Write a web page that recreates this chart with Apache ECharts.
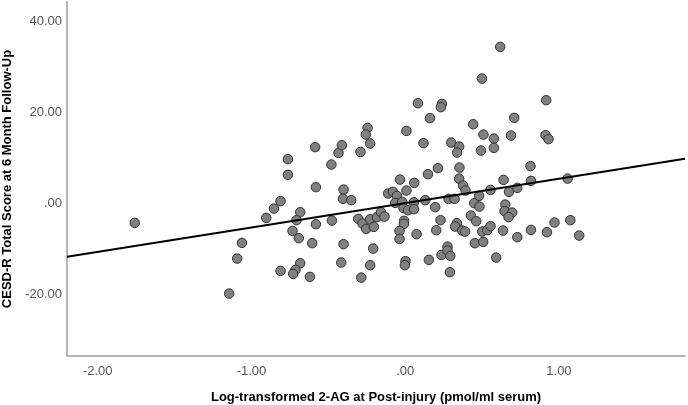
<!DOCTYPE html>
<html>
<head>
<meta charset="utf-8">
<script src="https://cdn.jsdelivr.net/npm/echarts@6/dist/echarts.min.js"></script>
<style>
html,body{margin:0;padding:0;background:#fff;}
#chart{width:688px;height:405px;}
</style>
</head>
<body>
<div id="chart"></div>
<script>
// Log-transformed 2-AG (x) and CESD-R score (y)
const xVals = [-1.759,-1.145,-1.062,-1.093,-0.904,-0.854,-0.811,-0.763,-0.763,-0.586,
-0.581,-0.683,-0.707,-0.733,-0.692,-0.605,-0.581,-0.811,-0.683,-0.714,
-0.729,-0.620,-0.480,-0.434,-0.412,-0.401,-0.405,-0.351,-0.477,-0.401,
-0.416,-0.291,-0.245,-0.256,-0.228,-0.306,-0.278,-0.254,-0.228,-0.204,
-0.184,-0.158,-0.135,-0.208,-0.228,-0.286,-0.111,-0.080,-0.054,-0.065,
-0.020,-0.034,0.008,0.008,0.059,0.057,0.130,-0.011,0.018,0.057,
-0.007,-0.008,-0.037,-0.037,0.074,0.002,-0.002,0.083,0.161,0.119,
0.148,0.213,0.195,0.230,0.202,0.154,0.236,0.275,0.275,0.293,
0.291,0.239,0.232,0.299,0.351,0.338,0.353,0.351,0.377,0.392,
0.282,0.321,0.336,0.325,0.371,0.390,0.427,0.462,0.449,0.483,
0.481,0.442,0.499,0.493,0.509,0.453,0.507,0.501,0.534,0.555,
0.555,0.577,0.577,0.592,0.618,0.640,0.651,0.646,0.696,0.672,
0.636,0.675,0.729,0.688,0.709,0.729,0.815,0.818,0.818,0.917,
0.913,0.932,0.922,0.971,1.056,1.074,1.132];
const yVals = [-4.28,-19.80,-8.67,-12.12,-3.18,-1.14,0.48,9.70,6.26,12.34,
3.56,-1.93,-3.69,-6.04,-7.64,-8.74,-4.57,-14.82,-13.13,-14.60,
-15.47,-16.13,8.52,11.08,12.77,3.03,0.99,0.70,-3.78,-8.96,
-12.99,11.30,16.57,15.10,13.13,-3.40,-4.43,-5.60,-3.47,-5.16,
-3.03,-1.93,-2.90,-9.92,-13.57,-16.29,2.15,2.52,1.65,0.11,
0.33,5.22,2.81,15.91,4.50,0.26,0.70,-1.05,-1.49,-1.27,
-3.84,-4.50,-6.04,-7.79,-6.76,-12.69,-13.57,21.99,18.70,13.21,
6.41,7.73,-0.83,-3.69,-5.88,-12.40,-11.30,-9.48,-10.36,-11.52,
-15.10,21.84,21.12,13.35,12.47,11.15,7.86,5.44,3.91,2.81,
0.99,0.99,-4.35,-5.09,-5.97,-6.19,-2.68,-3.91,0.04,-0.70,
1.65,17.38,27.39,11.59,15.10,-8.74,-8.45,-6.19,-5.88,-5.00,
2.96,14.22,12.18,-11.90,34.35,5.16,-0.26,-1.71,-2.02,-3.03,
-5.97,2.52,3.40,14.88,18.77,-7.42,8.17,4.94,-5.82,22.65,
14.97,14.09,-6.32,-4.21,5.44,-3.69,-7.07];
// Fit line end points
const fitX = [-2.20, 1.82];
const fitY = [-11.74, 9.77];
// Tick labels
const xTicks = [-2, -1, 0, 1];
const yTicks = [-20, 0, 20, 40];

const fmt = v => (v === 0 ? '.00' : v.toFixed(2));
const points = xVals.map((x, i) => [x, yVals[i]]);
const fitLine = fitX.map((x, i) => [x, fitY[i]]);

const chart = echarts.init(document.getElementById('chart'), null, {renderer: 'canvas'});
chart.setOption({
  animation: false,
  backgroundColor: '#ffffff',
  grid: {left: 67, right: 3, top: 2, bottom: 49, containLabel: false, outerBoundsMode: 'none'},
  xAxis: {
    type: 'value', min: -2.20, max: 1.82,
    name: 'Log-transformed 2-AG at Post-injury (pmol/ml serum)',
    nameLocation: 'middle', nameGap: 35,
    nameTextStyle: {fontFamily: 'Liberation Sans', fontWeight: 'bold', fontSize: 13, color: '#000'},
    axisLine: {onZero: false, lineStyle: {color: '#b4b4b4', width: 2}},
    axisTick: {show: false},
    splitLine: {show: false},
    axisLabel: {customValues: xTicks, formatter: fmt, margin: 9,
      fontFamily: 'Liberation Sans', fontSize: 13, color: '#555'}
  },
  yAxis: {
    type: 'value', min: -33.5, max: 44.2,
    name: 'CESD-R Total Score at 6 Month Follow-Up',
    nameLocation: 'middle', nameGap: 52, nameRotate: 90,
    nameTextStyle: {fontFamily: 'Liberation Sans', fontWeight: 'bold', fontSize: 13, color: '#000'},
    axisLine: {onZero: false, lineStyle: {color: '#b4b4b4', width: 2}},
    axisTick: {show: false},
    splitLine: {show: false},
    axisLabel: {customValues: yTicks, formatter: fmt, margin: 5,
      fontFamily: 'Liberation Sans', fontSize: 13, color: '#555'}
  },
  series: [
    {
      type: 'scatter', data: points, symbol: 'circle', symbolSize: 9.5,
      itemStyle: {color: '#808080', borderColor: '#333', borderWidth: 1, opacity: 1},
      z: 2
    },
    {
      type: 'line', data: fitLine, symbol: 'none',
      lineStyle: {color: '#000', width: 2}, z: 3
    }
  ]
});
</script>
</body>
</html>
